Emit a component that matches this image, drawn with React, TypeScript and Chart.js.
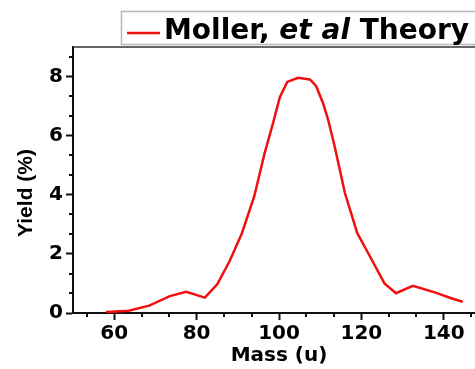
import React, { useEffect, useRef } from "react";
import { Chart, registerables } from "chart.js";

Chart.register(...registerables);

const masses = [58, 63.5, 68.5, 73.5, 77.5, 82, 85, 88, 91, 94, 96.5, 98.5, 100.2, 102, 104.6, 107.5, 109, 110.7, 112, 113.5, 116, 119, 121.2, 125.6, 128.4, 132.5, 138, 141.8, 144.6];
const yields = [0.03, 0.08, 0.25, 0.57, 0.72, 0.52, 0.97, 1.75, 2.7, 3.95, 5.4, 6.4, 7.3, 7.82, 7.96, 7.9, 7.68, 7.1, 6.5, 5.64, 4.06, 2.7, 2.14, 1.0, 0.67, 0.92, 0.69, 0.5, 0.38];

const xMajorTicks = [60, 80, 100, 120, 140];
const yMajorTicks = [0, 2, 4, 6, 8];
const xMinorTicks = [53.333, 66.667, 73.333, 86.667, 93.333, 106.667, 113.333, 126.667, 133.333, 146.667];
const yMinorTicks = [0.667, 1.333, 2.667, 3.333, 4.667, 5.333, 6.667, 7.333, 8.667];

const seriesLabel = "Moller, et al Theory";
const xTitle = "Mass (u)";
const yTitle = "Yield (%)";

const LINE_RED = "#f01010";
const AXIS = "#111";

const decorPlugin = {
  id: "decor",
  afterDraw(chart: any) {
    const ctx = chart.ctx;
    const ca = chart.chartArea;
    const xs = chart.scales.x;
    const ys = chart.scales.y;
    ctx.save();
    // top border
    ctx.strokeStyle = "#333";
    ctx.lineWidth = 1.5;
    ctx.beginPath();
    ctx.moveTo(ca.left, ca.top);
    ctx.lineTo(ca.right, ca.top);
    ctx.stroke();
    // minor ticks
    ctx.strokeStyle = AXIS;
    ctx.lineWidth = 2;
    for (const v of yMinorTicks) {
      const py = Math.round(ys.getPixelForValue(v));
      ctx.beginPath();
      ctx.moveTo(ca.left - 4, py);
      ctx.lineTo(ca.left, py);
      ctx.stroke();
    }
    for (const v of xMinorTicks) {
      const px = Math.round(xs.getPixelForValue(v));
      ctx.beginPath();
      ctx.moveTo(px, ca.bottom);
      ctx.lineTo(px, ca.bottom + 4);
      ctx.stroke();
    }
    // y title
    ctx.fillStyle = "#000";
    ctx.font = "bold 21px 'Liberation Sans', Arial, sans-serif";
    ctx.textAlign = "center";
    ctx.textBaseline = "middle";
    ctx.translate(26, 193);
    ctx.rotate(-Math.PI / 2);
    ctx.fillText(yTitle, 0, 0);
    ctx.restore();

    // legend
    ctx.save();
    ctx.fillStyle = "#fff";
    ctx.fillRect(121.5, 11.5, 400, 33);
    ctx.strokeStyle = "#b8b8b8";
    ctx.lineWidth = 1.5;
    ctx.strokeRect(121.5, 11.5, 400, 33);
    ctx.strokeStyle = LINE_RED;
    ctx.lineWidth = 2.5;
    ctx.beginPath();
    ctx.moveTo(127, 33);
    ctx.lineTo(160, 33);
    ctx.stroke();
    ctx.fillStyle = "#000";
    ctx.textAlign = "left";
    ctx.textBaseline = "alphabetic";
    const parts = [
      { t: "Moller, ", it: false },
      { t: "et al", it: true },
      { t: " Theory", it: false },
    ];
    let x = 164;
    for (const p of parts) {
      ctx.font = (p.it ? "italic " : "") + "bold 28px 'DejaVu Sans', sans-serif";
      ctx.fillText(p.t, x, 38.5);
      x += ctx.measureText(p.t).width;
    }
    ctx.restore();
  },
};

export default function App() {
  const ref = useRef<HTMLCanvasElement>(null);
  useEffect(() => {
    if (!ref.current) return;
    const chart = new Chart(ref.current, {
      type: "line",
      data: {
        datasets: [
          {
            label: seriesLabel,
            data: masses.map((m, i) => ({ x: m, y: yields[i] })),
            borderColor: LINE_RED,
            borderWidth: 2.5,
            pointRadius: 0,
            tension: 0,
            fill: false,
          },
        ],
      },
      options: {
        animation: false,
        responsive: false,
        devicePixelRatio: 1,
        layout: { padding: { top: 47, right: 5, left: 0, bottom: 0 } },
        plugins: { legend: { display: false }, tooltip: { enabled: false } },
        scales: {
          x: {
            type: "linear",
            min: 50,
            max: 150,
            afterBuildTicks: (s: any) => {
              s.ticks = xMajorTicks.map((v) => ({ value: v }));
            },
            afterFit: (s: any) => {
              s.height = 56;
            },
            border: { display: true, color: AXIS, width: 2 },
            grid: { display: true, drawOnChartArea: false, drawTicks: true, tickLength: 7, tickWidth: 2, tickColor: AXIS },
            ticks: { color: "#000", padding: 2, maxRotation: 0, font: { family: "'DejaVu Sans', sans-serif", weight: "bold", size: 20 } },
            title: { display: true, text: xTitle, color: "#000", padding: { top: 0, bottom: 1 }, font: { family: "'DejaVu Sans', sans-serif", weight: "bold", size: 20 } },
          },
          y: {
            type: "linear",
            min: 0,
            max: 9,
            afterBuildTicks: (s: any) => {
              s.ticks = yMajorTicks.map((v) => ({ value: v }));
            },
            afterFit: (s: any) => {
              s.width = 73;
            },
            border: { display: true, color: AXIS, width: 2 },
            grid: { display: true, drawOnChartArea: false, drawTicks: true, tickLength: 7, tickWidth: 2, tickColor: AXIS },
            ticks: { color: "#000", padding: 3, font: { family: "'DejaVu Sans', sans-serif", weight: "bold", size: 20 } },
          },
        },
      },
      plugins: [decorPlugin],
    } as any);
    return () => chart.destroy();
  }, []);
  return (
    <div style={{ position: "absolute", left: 0, top: 0, width: 475, height: 369, overflow: "hidden", background: "#fff" }}>
      <canvas ref={ref} width={490} height={369} style={{ display: "block" }} />
    </div>
  );
}
